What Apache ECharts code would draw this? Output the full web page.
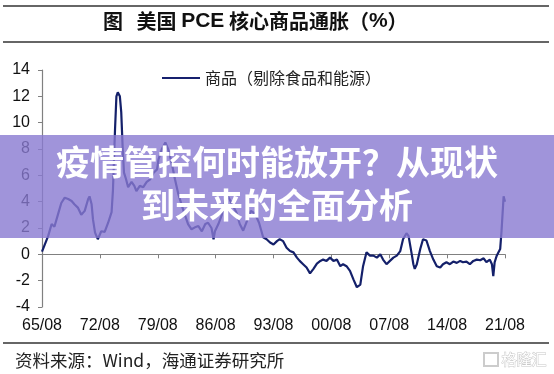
<!DOCTYPE html>
<html>
<head>
<meta charset="utf-8">
<script src="https://cdn.jsdelivr.net/npm/echarts@6/dist/echarts.min.js"></script>
<style>
html,body{margin:0;padding:0;background:#fff;}
#c{width:554px;height:374px;}
</style>
</head>
<body>
<div id="c"></div>
<script>
// decimal years and core goods PCE inflation (%)
var years = [1965.58,1966.31,1966.71,1967.12,1967.52,1967.92,1968.33,1968.73,1969.13,1969.54,1969.94,1970.34,1970.75,1971.15,1971.35,1971.55,1971.75,1971.99,1972.36,1972.76,1973.17,1973.57,1973.97,1974.17,1974.41,1974.62,1974.78,1974.98,1975.14,1975.34,1975.50,1975.74,1975.98,1976.38,1976.79,1977.04,1977.44,1977.84,1978.25,1978.65,1979.05,1979.46,1979.65,1980.06,1980.46,1980.86,1981.27,1981.67,1982.07,1982.48,1982.88,1983.28,1983.69,1984.09,1984.49,1984.90,1985.30,1985.70,1986.11,1986.30,1986.51,1986.91,1987.32,1987.72,1988.12,1988.56,1989.05,1989.53,1989.89,1990.38,1990.86,1991.35,1991.83,1992.35,1992.76,1993.16,1993.56,1993.97,1994.37,1994.77,1995.18,1995.58,1995.98,1996.39,1996.79,1997.19,1997.60,1998.00,1998.40,1998.81,1999.21,1999.61,2000.02,2000.42,2000.82,2001.23,2001.63,2002.03,2002.44,2002.84,2003.24,2003.65,2004.05,2004.45,2004.86,2005.26,2005.66,2006.07,2006.47,2006.87,2007.27,2007.67,2008.07,2008.48,2008.88,2009.28,2009.69,2009.88,2010.30,2010.49,2010.70,2010.90,2011.30,2011.70,2012.11,2012.51,2012.91,2013.32,2013.72,2014.12,2014.53,2014.93,2015.33,2015.74,2016.14,2016.54,2016.95,2017.35,2017.75,2018.16,2018.56,2018.96,2019.37,2019.77,2019.97,2020.17,2020.37,2020.58,2020.77,2020.98,2021.18,2021.38,2021.58];
var values = [0.2,1.4,2.3,2.1,3.0,3.9,4.3,4.2,4.05,3.8,3.55,3.0,3.3,4.2,4.4,3.8,2.65,1.65,1.15,1.75,1.7,2.4,3.2,4.9,9.5,12.0,12.3,12.0,10.8,8.2,6.2,5.7,5.1,5.5,5.2,4.8,5.2,5.1,5.5,5.7,6.2,6.45,7.2,8.0,8.5,8.0,7.0,5.7,4.55,3.7,2.9,2.3,1.9,2.05,2.15,1.75,2.3,2.4,2.0,1.15,1.75,2.3,3.0,4.3,4.4,3.8,3.2,2.3,1.8,2.6,3.3,3.1,2.4,1.3,1.15,0.9,0.75,1.0,1.15,1.0,0.5,0.25,0.15,-0.25,-0.5,-0.75,-1.0,-1.45,-1.1,-0.7,-0.5,-0.4,-0.5,-0.25,-0.5,-0.4,-0.9,-0.75,-0.9,-1.25,-1.9,-2.5,-2.3,-0.9,0.15,-0.1,-0.1,-0.25,0.0,-0.4,-0.75,-0.5,-0.25,-0.1,0.25,1.15,1.6,1.4,-0.1,-0.75,-1.1,-0.75,0.4,1.15,1.05,0.25,-0.4,-0.9,-1.0,-0.75,-0.6,-0.75,-0.55,-0.65,-0.5,-0.6,-0.55,-0.75,-0.5,-0.4,-0.45,-0.3,-0.6,-0.4,-0.75,-1.65,-0.6,-0.1,0.1,0.4,1.8,4.4,4.0];
var tickLabels = ['65/08','72/08','79/08','86/08','93/08','00/08','07/08','14/08','21/08'];
var yMin = -4, yMax = 14, yStep = 2;
var seriesName = '商品（剔除食品和能源）';
var sourceText = '资料来源：Wind，海通证券研究所';
var bannerLine1 = '疫情管控何时能放开？从现状';
var bannerLine2 = '到未来的全面分析';

var START = 1965 + 7/12; // 1965/08
var data = years.map(function(y, i){ return [Math.round((y - START) * 12), values[i]]; });
var maxMonth = (tickLabels.length - 1) * 84;

var chart = echarts.init(document.getElementById('c'), null, {renderer:'canvas'});
var axisFont = 'Liberation Sans, Arial, sans-serif';
var cjk = '"Noto Sans CJK SC", sans-serif';
chart.setOption({
  animation:false,
  backgroundColor:'#fff',
  grid:{left:42,right:49,top:70,bottom:67,containLabel:false},
  legend:{
    show:true, left:157, top:65, icon:'rect', itemWidth:38, itemHeight:2, itemGap:10,
    textStyle:{fontFamily:cjk,fontSize:16,color:'#222'},
    data:[{name:seriesName,itemStyle:{color:'#16206e'}}]
  },
  xAxis:[{
    type:'value', min:0, max:maxMonth, interval:84, position:'bottom',
    axisLine:{show:true,onZero:true,lineStyle:{color:'#808080',width:1.2}},
    axisTick:{show:true,inside:false,length:4,lineStyle:{color:'#808080'}},
    axisLabel:{show:false}, splitLine:{show:false}
  },{
    type:'value', min:0, max:maxMonth, interval:84, position:'bottom',
    axisLine:{show:false,onZero:false}, axisTick:{show:false}, splitLine:{show:false},
    axisLabel:{show:true,margin:11,fontFamily:axisFont,fontSize:16,color:'#111',
      formatter:function(v){ var i = Math.round(v/84); return tickLabels[i] || ''; }}
  }],
  yAxis:{
    type:'value', min:yMin, max:yMax, interval:yStep,
    axisLine:{show:true,lineStyle:{color:'#808080',width:1.2}},
    axisTick:{show:true,inside:false,length:4,lineStyle:{color:'#808080'}},
    axisLabel:{margin:12,fontFamily:axisFont,fontSize:16,color:'#111'},
    splitLine:{show:false}
  },
  series:[{
    name:seriesName, type:'line', xAxisIndex:0, data:data, showSymbol:false, symbol:'none',
    lineStyle:{color:'#14206a',width:2.2}, itemStyle:{color:'#14206a'}, z:3
  }],
  graphic:[
    {type:'line',z:50,shape:{x1:3,y1:6,x2:549,y2:6},style:{stroke:'#333',lineWidth:1.5}},
    {type:'line',z:50,shape:{x1:3,y1:42,x2:549,y2:42},style:{stroke:'#333',lineWidth:1.5}},
    {type:'text',z:50,left:103,top:11,style:{
      text:'{a|图   美国 }{b|PCE}{a| 核心商品通胀（}{b|%}{a|）}',
      rich:{a:{fontFamily:cjk,fontSize:20,fontWeight:'bold',fill:'#111'},
            b:{fontFamily:axisFont,fontSize:21,fontWeight:'bold',fill:'#111'}}}},
    {type:'line',z:50,shape:{x1:3,y1:343,x2:549,y2:343},style:{stroke:'#333',lineWidth:1.5}},
    {type:'text',z:50,left:15,top:352,style:{text:sourceText,font:'17.5px "Noto Sans CJK SC", sans-serif',fill:'#222'}},
    {type:'rect',z:50,shape:{x:484,y:353,width:14,height:13},style:{fill:'none',stroke:'#cccccc',lineWidth:2}},
    {type:'text',z:50,left:501,top:351,style:{text:'格隆汇',font:'15px "Noto Sans CJK SC", sans-serif',fill:'#fff',stroke:'#c8c8c8',lineWidth:1}},
    {type:'rect',z:100,shape:{x:0,y:135,width:554,height:103},style:{fill:'rgba(136,121,209,0.8)'}},
    {type:'text',z:101,left:'center',top:145,style:{text:bannerLine1,font:'bold 34px "Noto Sans CJK SC", sans-serif',fill:'#fff',shadowColor:'rgba(0,0,0,0.25)',shadowBlur:2}},
    {type:'text',z:101,left:'center',top:188,style:{text:bannerLine2,font:'bold 34px "Noto Sans CJK SC", sans-serif',fill:'#fff',shadowColor:'rgba(0,0,0,0.25)',shadowBlur:2}}
  ]
});
</script>
</body>
</html>
